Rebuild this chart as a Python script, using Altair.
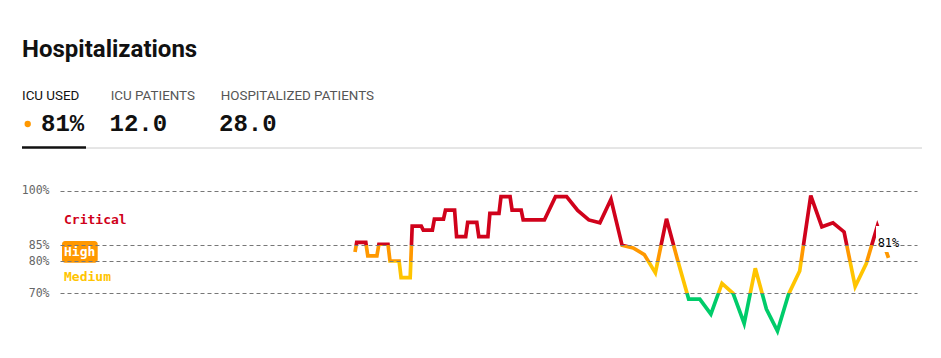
import altair as alt
import pandas as pd
import numpy as np

# ---------------- data ----------------
title_text = "Hospitalizations"
tab_labels = ["ICU USED", "ICU PATIENTS", "HOSPITALIZED PATIENTS"]
tab_values = ["81%", "12.0", "28.0"]

# early period: readings hold a flat level each day (days 0..15)
step_start_value = 82.8
step_values = [85.7, 81.6, 85.2, 80.0, 74.8, 90.2, 89.1, 92.1, 94.6, 87.3,
               91.2, 87.3, 93.7, 98.3, 94.6, 91.9]
# later period: one reading per day (days 16..48)
daily_values = [91.9, 91.9, 98.3, 98.3, 94.5, 91.9, 91.1, 97.6, 84.9, 84.1,
                82.0, 76.3, 92.2, 80.3, 68.1, 68.1, 63.4, 73.0, 69.9, 60.5,
                77.7, 65.0, 58.1, 69.6, 76.9, 98.6, 90.0, 91.1, 88.6, 72.0,
                79.2, 90.2, 81.0]
last_label = "81%"

band_names = ["Critical", "High", "Medium"]
band_low = [85, 80, 70]
band_high = [100, 85, 80]
band_label_values = [91.8, 82.7, 75.1]
grid_values = [70, 80, 85, 100]

RED, ORANGE, YELLOW, GREEN = "#d0021b", "#ff9800", "#ffc400", "#00cc6a"

# ---------------- build tables ----------------
days, vals = [-0.06], [step_start_value]
days.append(0.09); vals.append(step_values[0])
for d in range(1, len(step_values)):
    days += [d - 0.09, d + 0.09]
    vals += [step_values[d - 1], step_values[d]]
start_daily = len(step_values)
for i, v in enumerate(daily_values):
    days.append(start_daily + i); vals.append(v)
line_df = pd.DataFrame({"day": days, "value": vals})
last_df = pd.DataFrame({"day": [days[-1]], "value": [vals[-1]], "label": [last_label]})

# ---------------- scales ----------------
y_dom = [50, 70, 85, 100]
y_rng = [349, 285, 237, 182.5]
yscale = alt.Scale(domain=y_dom, range=y_rng, nice=False, zero=False)
xscale = alt.Scale(domain=[-26.64, 50.57], nice=False, zero=False)

def ypx(v):
    return float(np.interp(v, y_dom, y_rng))

top, bot = ypx(max(vals)), ypx(min(vals))
def off(t):
    return (ypx(t) - top) / (bot - top)

o85, o80, o70 = off(85), off(80), off(70)
grad = alt.Gradient(
    gradient="linear", x1=0, x2=0, y1=0, y2=1,
    stops=[alt.GradientStop(offset=0, color=RED), alt.GradientStop(offset=o85, color=RED),
           alt.GradientStop(offset=o85, color=ORANGE), alt.GradientStop(offset=o80, color=ORANGE),
           alt.GradientStop(offset=o80, color=YELLOW), alt.GradientStop(offset=o70, color=YELLOW),
           alt.GradientStop(offset=o70, color=GREEN), alt.GradientStop(offset=1, color=GREEN)])

yaxis = alt.Axis(values=grid_values, labelExpr="datum.value + '%'", grid=True,
                 gridDash=[4, 3], gridColor="#777", gridWidth=1, ticks=False, domain=False,
                 labelFont="DejaVu Sans Mono", labelFontSize=11.5, labelColor="#666",
                 labelPadding=11, title=None, zindex=1)

def Y(f):
    return alt.Y(f, type="quantitative", scale=yscale, axis=yaxis)

def X(f):
    return alt.X(f, type="quantitative", scale=xscale, axis=None)

line = alt.Chart(line_df).mark_line(stroke=grad, strokeWidth=3.7).encode(x=X("day"), y=Y("value"))

mask = alt.Chart(last_df).mark_square(size=676, color="white", opacity=1, xOffset=0.5,
                                      yOffset=-18.8).encode(x=X("day"), y=Y("value"))
last_text = alt.Chart(last_df).mark_text(dy=-11.1, align="center", baseline="alphabetic",
                                         font="DejaVu Sans Mono", fontSize=12, color="black"
                                         ).encode(x=X("day"), y=Y("value"), text="label")

badge_df = pd.DataFrame({"value": [band_high[1]], "value2": [band_low[1]]})
badge = alt.Chart(badge_df).mark_rect(color=ORANGE, cornerRadius=3, x=2, x2=37.7,
                                      yOffset=-4, y2Offset=1.7).encode(y=Y("value"), y2="value2")

band_df = pd.DataFrame({"name": band_names, "value": band_label_values})
band_text = alt.Chart(band_df).mark_text(x=4, align="left", baseline="middle",
                                         font="DejaVu Sans Mono", fontSize=13, fontWeight="bold"
                                         ).encode(y=Y("value"), text="name",
                                                  color=alt.Color("name:N", scale=alt.Scale(domain=band_names, range=[RED, "white", YELLOW]), legend=None))

# ---------------- header ----------------
layers = [line, mask, last_text, badge, band_text]

def txt(s, x, y, **kw):
    return alt.Chart(pd.DataFrame({"t": [s]})).mark_text(x=x, y=y, align="left",
                                                         baseline="alphabetic", **kw).encode(text="t")

layers.append(txt(title_text, -38, 49.3, font="Roboto", fontSize=24, fontWeight="bold", color="#111"))
tab_x = [-38, 50.7, 160.7]
for i, lab in enumerate(tab_labels):
    layers.append(txt(lab, tab_x[i], 92, font="Roboto", fontSize=13.4,
                      color="#111" if i == 0 else "#555"))
val_x = [-19, 49.5, 159]
for i, val in enumerate(tab_values):
    layers.append(txt(val, val_x[i], 122.7, font="Liberation Mono", fontSize=24,
                      fontWeight="bold", color="#111"))
layers.append(alt.Chart(pd.DataFrame({"t": [0]})).mark_circle(size=40, color=ORANGE, opacity=1)
              .encode(x=alt.value(-32.3), y=alt.value(116)))
layers.append(alt.Chart(pd.DataFrame({"t": [0]})).mark_rule(color="#ccc", strokeWidth=1)
              .encode(x=alt.value(26), x2=alt.value(862), y=alt.value(140)))
layers.append(alt.Chart(pd.DataFrame({"t": [0]})).mark_rule(color="#111", strokeWidth=2.5)
              .encode(x=alt.value(-38), x2=alt.value(26), y=alt.value(139.5)))

chart = alt.layer(*layers).properties(
    width=857, height=342,
    autosize=alt.AutoSizeParams(type="none"),
    padding={"left": 52, "top": 0, "right": 16, "bottom": 0},
).configure_view(stroke=None)

chart.save("out.html", embed_options={"renderer": "svg", "actions": False})
